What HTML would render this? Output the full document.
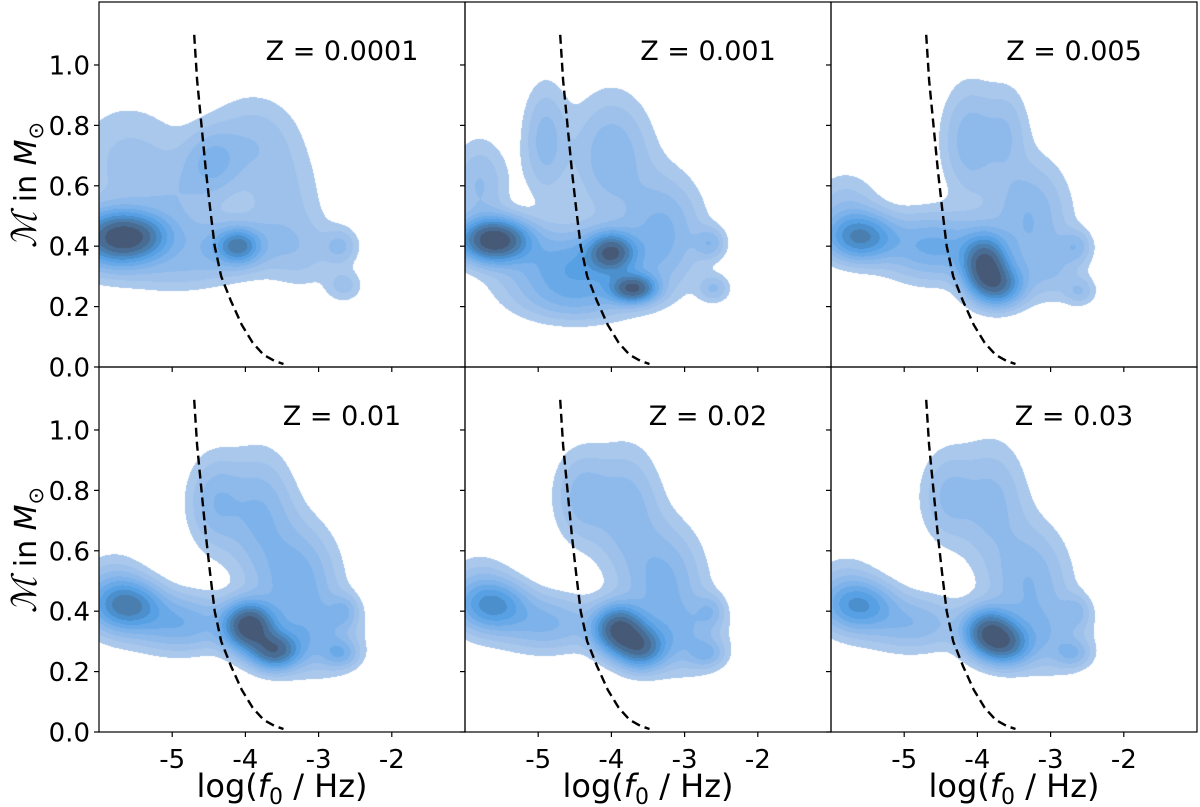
<!DOCTYPE html>
<html><head><meta charset="utf-8"><style>
body{margin:0;background:#fff;width:1200px;height:807px;overflow:hidden}
#wrap{position:relative;width:1200px;height:807px}
canvas{position:absolute}
svg{position:absolute;left:0;top:0}
text{font-family:"DejaVu Sans","Liberation Sans",sans-serif;fill:#000}
</style></head><body>
<div id="wrap">
<svg id="svg" width="1200" height="807"></svg>
</div>
<script>
// ---- data ----
const panelTitles = ["Z = 0.0001","Z = 0.001","Z = 0.005","Z = 0.01","Z = 0.02","Z = 0.03"];
const xTicks = [-5,-4,-3,-2];
const xTickLabels = ["-5","-4","-3","-2"];
const yTicks = [0,0.2,0.4,0.6,0.8,1.0];
const yTickLabels = ["0.0","0.2","0.4","0.6","0.8","1.0"];
const curveX = [-4.70,-4.66,-4.60,-4.54,-4.48,-4.42,-4.33,-4.20,-4.05,-3.90,-3.75,-3.60,-3.48];
const curveY = [1.10,0.95,0.80,0.65,0.52,0.40,0.30,0.22,0.14,0.08,0.04,0.02,0.01];
// KDE mixture components: [x, y, sx, sy, weight]
const comp0 = [[-5.6,0.43,0.35,0.05,1.0],[-5.9,0.42,0.35,0.07,0.35],[-4.1,0.40,0.18,0.035,0.55],[-4.2,0.40,0.45,0.06,0.25],[-2.7,0.40,0.16,0.04,0.17],[-2.65,0.27,0.16,0.035,0.13],[-4.45,0.68,0.25,0.07,0.22],[-5.6,0.68,0.5,0.13,0.12],[-3.9,0.75,0.4,0.1,0.14],[-3.5,0.55,0.35,0.12,0.12],[-5.0,0.32,0.5,0.05,0.12],[-3.2,0.38,0.3,0.08,0.1],[-4.9,0.55,0.4,0.1,0.12]];
const comp1 = [[-5.6,0.42,0.3,0.045,0.85],[-4.0,0.38,0.2,0.04,0.6],[-3.7,0.26,0.2,0.03,0.65],[-2.65,0.41,0.14,0.035,0.14],[-2.6,0.26,0.14,0.03,0.12],[-4.5,0.33,0.6,0.08,0.3],[-5.8,0.6,0.25,0.1,0.12],[-4.9,0.75,0.2,0.12,0.14],[-4.0,0.7,0.35,0.13,0.16],[-3.3,0.45,0.35,0.12,0.18],[-4.5,0.22,0.5,0.05,0.1]];
const comp2 = [[-5.6,0.43,0.3,0.05,0.55],[-3.9,0.34,0.2,0.06,0.85],[-3.7,0.27,0.22,0.045,0.55],[-2.65,0.40,0.14,0.035,0.14],[-2.6,0.25,0.14,0.03,0.12],[-4.6,0.40,0.45,0.07,0.3],[-4.1,0.75,0.25,0.12,0.18],[-3.6,0.78,0.2,0.1,0.12],[-3.3,0.5,0.35,0.12,0.2],[-5.8,0.52,0.3,0.08,0.12],[-3.0,0.33,0.3,0.07,0.12]];
const comp3 = [[-5.6,0.42,0.3,0.05,0.4],[-3.95,0.35,0.22,0.05,0.8],[-3.6,0.27,0.22,0.04,0.6],[-2.7,0.26,0.16,0.03,0.16],[-2.65,0.40,0.13,0.035,0.12],[-4.4,0.76,0.25,0.1,0.15],[-3.8,0.72,0.3,0.13,0.16],[-3.3,0.5,0.35,0.12,0.2],[-4.9,0.36,0.45,0.06,0.22],[-5.8,0.45,0.3,0.08,0.15],[-3.0,0.32,0.35,0.08,0.15]];
const comp4 = [[-5.6,0.42,0.3,0.05,0.35],[-3.9,0.34,0.22,0.05,0.8],[-3.6,0.28,0.22,0.045,0.6],[-2.7,0.26,0.16,0.03,0.15],[-2.65,0.40,0.13,0.035,0.12],[-4.4,0.78,0.25,0.1,0.15],[-3.8,0.74,0.3,0.13,0.16],[-3.3,0.5,0.35,0.12,0.2],[-4.9,0.36,0.45,0.06,0.2],[-5.8,0.45,0.3,0.08,0.14],[-3.0,0.32,0.35,0.08,0.15]];
const comp5 = [[-5.6,0.42,0.3,0.05,0.38],[-3.85,0.33,0.22,0.05,0.8],[-3.6,0.29,0.22,0.045,0.55],[-2.7,0.26,0.16,0.03,0.16],[-2.65,0.40,0.13,0.035,0.12],[-4.4,0.78,0.25,0.1,0.15],[-3.8,0.76,0.3,0.13,0.16],[-3.3,0.5,0.35,0.12,0.2],[-4.9,0.36,0.45,0.06,0.2],[-5.8,0.45,0.3,0.08,0.14],[-3.0,0.32,0.35,0.08,0.15]];
const components = [comp0,comp1,comp2,comp3,comp4,comp5];
const levelFrac = [0.04,0.08,0.13,0.19,0.26,0.34,0.43,0.53,0.65,0.8];
const levelColors = ["#aac8ec","#9dc1eb","#8ebaeb","#7db2ea","#69a9e8","#57a0e4","#4b8fcc","#4a7eaf","#486c93","#465a78"];

// ---- layout ----
const colX = [99,465,831], rowY = [2,367], PW = 366, PH = 365;
const X0=-6, X1=-1, Y0=0, Y1=1.2085;
const NS="http://www.w3.org/2000/svg";
const svg=document.getElementById('svg');
const wrap=document.getElementById('wrap');
function el(tag,attrs,parent){const e=document.createElementNS(NS,tag);for(const k in attrs)e.setAttribute(k,attrs[k]);(parent||svg).appendChild(e);return e;}
function hex(c){return [parseInt(c.substr(1,2),16),parseInt(c.substr(3,2),16),parseInt(c.substr(5,2),16)];}
const rgbLevels = levelColors.map(hex);

for(let p=0;p<6;p++){
  const px=colX[p%3], py=rowY[Math.floor(p/3)];
  const sx=v=>px+(v-X0)/(X1-X0)*PW;
  const sy=v=>py+PH-(v-Y0)/(Y1-Y0)*PH;
  const cv=document.createElement('canvas');
  cv.width=PW;cv.height=PH;cv.style.left=px+'px';cv.style.top=py+'px';
  
  
  wrap.insertBefore(cv,svg);
  const ctx=cv.getContext('2d');
  const img=ctx.createImageData(PW,PH);
  const comps=components[p];
  const dens=new Float32Array(PW*PH);let mx=0;
  for(let j=0;j<PH;j++){const yv=Y1-(j+0.5)/PH*(Y1-Y0);
    for(let i=0;i<PW;i++){const xv=X0+(i+0.5)/PW*(X1-X0);let d=0;
      for(const c of comps){const dx=(xv-c[0])/c[2],dy=(yv-c[1])/c[3];d+=c[4]*Math.exp(-0.5*(dx*dx+dy*dy));}
      dens[j*PW+i]=d;if(d>mx)mx=d;}}
  for(let k=0;k<dens.length;k++){const f=dens[k]/mx;let L=-1;
    for(let l=0;l<levelFrac.length;l++)if(f>=levelFrac[l])L=l;
    if(L>=0){const c=rgbLevels[L];img.data[4*k]=c[0];img.data[4*k+1]=c[1];img.data[4*k+2]=c[2];img.data[4*k+3]=255;}}
  ctx.putImageData(img,0,0);

  const g=el('g',{});
  
  
  let d='';for(let k=0;k<curveX.length;k++)d+=(k?'L':'M')+sx(curveX[k]).toFixed(1)+','+sy(curveY[k]).toFixed(1);
  const cl=el('path',{d:d,fill:'none',stroke:'#000','stroke-width':2.4,'stroke-dasharray':'9,5'},g);
  
  
  const fr=el('rect',{x:px,y:py,width:PW,height:PH,fill:'none',stroke:'#000','stroke-width':1.2},g);
  
  
  for(let k=0;k<yTicks.length;k++){const y=sy(yTicks[k]);
    el('line',{x1:px-5,x2:px,y1:y,y2:y,stroke:'#000','stroke-width':1.2},g);
    if(p%3===0){const t=el('text',{x:px-9,y:y+9.5,'text-anchor':'end','font-size':26},g);t.textContent=yTickLabels[k];
      
      }}
  for(let k=0;k<xTicks.length;k++){const x=sx(xTicks[k]);
    el('line',{x1:x,x2:x,y1:py+PH,y2:py+PH+5,stroke:'#000','stroke-width':1.2},g);
    if(p>=3){const t=el('text',{x:x,y:py+PH+36,'text-anchor':'middle','font-size':26},g);t.textContent=xTickLabels[k];
      
      }}
  const tt=el('text',{x:px+243,y:py+58,'text-anchor':'middle','font-size':27},g);
  tt.textContent=panelTitles[p];
  
  
  if(p>=3){const xl=el('text',{x:px+183,y:797,'text-anchor':'middle','font-size':32},g);
    xl.innerHTML='log(<tspan font-style="italic">f</tspan><tspan font-size="22" dy="7">0</tspan><tspan dy="-7"> / Hz)</tspan>';
    
    }
  if(p%3===0){const cy=py+183;const yl=el('text',{x:0,y:0,'text-anchor':'middle','font-size':30,transform:'translate(36,'+cy+') rotate(-90)'},g);
    yl.innerHTML='<tspan font-family="Liberation Serif" font-style="italic" font-size="34">ℳ</tspan> in <tspan font-style="italic">M</tspan><tspan font-size="21" dy="7">⊙</tspan>';
    
    }
}
</script>
</body></html>
